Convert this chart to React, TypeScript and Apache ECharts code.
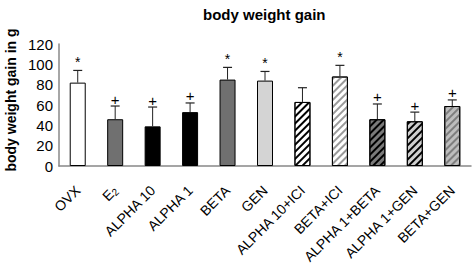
import React, { useEffect, useRef } from "react";
import * as echarts from "echarts";

const categories = ["OVX", "E2", "ALPHA 10", "ALPHA 1", "BETA", "GEN", "ALPHA 10+ICI", "BETA+ICI", "ALPHA 1+BETA", "ALPHA 1+GEN", "BETA+GEN"];
const means = [82, 46, 39, 53, 85, 84, 63, 88, 46, 44, 59];
const errorTops = [94, 59, 58, 62, 97, 93, 77, 99, 61, 53, 65];
const marks = ["*", "+", "+", "+", "*", "*", "", "*", "+", "+", "+"];
const yTicks = [0, 20, 40, 60, 80, 100, 120];

const FONT = "Arial, 'Liberation Sans', Helvetica, sans-serif";

type Fill = { bg: string; stripe?: string };
const fills: Fill[] = [
  { bg: "#ffffff" },
  { bg: "#707070" },
  { bg: "#000000" },
  { bg: "#000000" },
  { bg: "#707070" },
  { bg: "#d4d4d4" },
  { bg: "#ffffff", stripe: "#000000" },
  { bg: "#ffffff", stripe: "#9a9a9a" },
  { bg: "#7a7a7a", stripe: "#000000" },
  { bg: "#cfcfcf", stripe: "#000000" },
  { bg: "#bdbdbd", stripe: "#7e7e7e" },
];

export default function App() {
  const ref = useRef<HTMLDivElement>(null);
  useEffect(() => {
    if (!ref.current) return;
    const chart = echarts.init(ref.current, undefined, { renderer: "svg" });
    const barData = means.map((v, i) => {
      const f = fills[i];
      const item: any = {
        value: v,
        itemStyle: { color: f.bg, borderColor: "#000", borderWidth: 1 },
      };
      if (f.stripe) {
        item.itemStyle.decal = {
          symbol: "rect",
          symbolSize: 1,
          color: f.stripe,
          dashArrayX: [1, 0],
          dashArrayY: [2, 2.4],
          rotation: -Math.PI / 4,
        };
      }
      return item;
    });
    const errData = means.map((v, i) => [i, v, errorTops[i]]);
    chart.setOption({
      animation: false,
      aria: { enabled: false, decal: { show: true } },
      title: {
        text: "body weight gain",
        left: 198,
        top: 2,
        textStyle: { fontFamily: FONT, fontSize: 15, fontWeight: "bold", color: "#000" },
      },
      grid: { left: 59, right: 5, top: 44, bottom: 110 },
      xAxis: {
        type: "category",
        data: categories,
        axisLine: { lineStyle: { color: "#888", width: 1.5 } },
        axisTick: { show: false },
        axisLabel: {
          rotate: 45,
          interval: 0,
          margin: 22,
          fontFamily: FONT,
          fontSize: 14,
          color: "#000",
          formatter: (v: string) => (v === "E2" ? "{a|E}{s|2}" : v),
          rich: {
            a: { fontFamily: FONT, fontSize: 14, color: "#000" },
            s: { fontFamily: FONT, fontSize: 10, color: "#000", padding: [6, 0, 0, 0] },
          },
        },
      },
      yAxis: {
        type: "value",
        min: yTicks[0],
        max: yTicks[yTicks.length - 1],
        interval: yTicks[1] - yTicks[0],
        axisLine: { show: true, lineStyle: { color: "#888", width: 1.5 } },
        axisTick: { show: false },
        splitLine: { show: false },
        axisLabel: { fontFamily: FONT, fontSize: 15, color: "#000", margin: 6 },
      },
      graphic: [
        {
          type: "text",
          x: 11,
          y: 100,
          rotation: Math.PI / 2,
          style: {
            text: "body weight gain in g",
            fontFamily: FONT,
            fontSize: 14,
            fontWeight: "bold",
            fill: "#000",
            align: "center",
            verticalAlign: "middle",
          },
        },
      ],
      series: [
        {
          type: "bar",
          data: barData,
          barWidth: 16,
          silent: true,
        },
        {
          type: "custom",
          data: errData,
          silent: true,
          z: 3,
          itemStyle: { color: "#000" },
          renderItem: (params: any, api: any) => {
            const idx = api.value(0);
            const base = api.coord([idx, api.value(1)]);
            const top = api.coord([idx, api.value(2)]);
            const children: any[] = [
              {
                type: "line",
                shape: { x1: base[0], y1: base[1], x2: top[0], y2: top[1] },
                style: { stroke: "#222", lineWidth: 1 },
              },
              {
                type: "line",
                shape: { x1: top[0] - 4.5, y1: top[1], x2: top[0] + 4.5, y2: top[1] },
                style: { stroke: "#222", lineWidth: 1.2 },
              },
            ];
            const m = marks[params.dataIndex];
            if (m) {
              children.push({
                type: "text",
                x: top[0],
                y: top[1] - (m === "*" ? 8 : 7),
                style: {
                  text: m,
                  fontFamily: FONT,
                  fontSize: m === "*" ? 14 : 15,
                  fill: "#000",
                  stroke: "transparent",
                  lineWidth: 0,
                  align: "center",
                  verticalAlign: "middle",
                },
              });
            }
            return { type: "group", children };
          },
        },
      ],
    });
    return () => chart.dispose();
  }, []);
  return <div ref={ref} style={{ width: 476, height: 276, position: "absolute", left: 0, top: 0, background: "#fff" }} />;
}
